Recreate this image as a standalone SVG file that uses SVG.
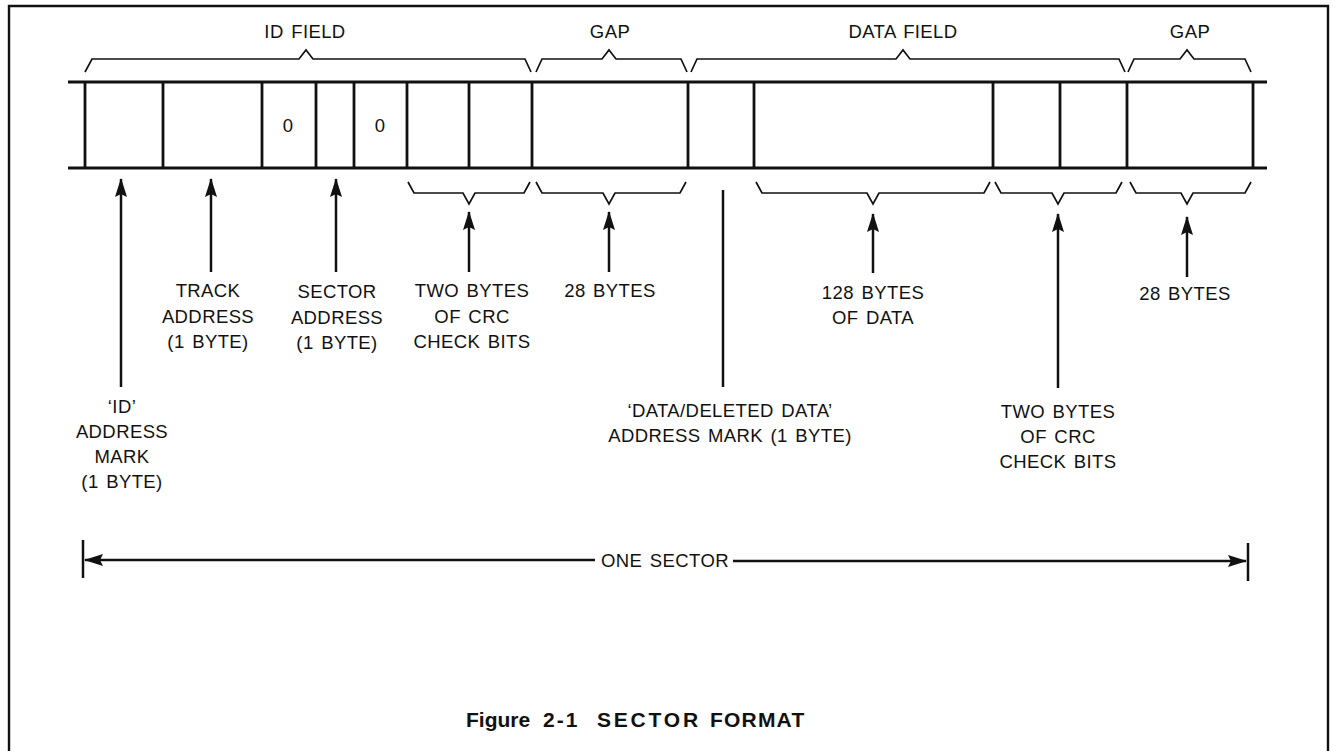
<svg xmlns="http://www.w3.org/2000/svg" width="1335" height="751" viewBox="0 0 1335 751">
<style>
.t{font-family:"Liberation Sans",Arial,sans-serif;font-size:18.5px;letter-spacing:0.4px;word-spacing:2px;fill:#111;text-anchor:middle}
.cap{font-family:"Liberation Sans",Arial,sans-serif;font-size:21px;font-weight:bold;fill:#111}
.ln{stroke:#111;stroke-width:2.8;fill:none}
.br{stroke:#111;stroke-width:1.7;fill:none;stroke-linejoin:miter}
.ar{stroke:#111;stroke-width:2.5;fill:none}
</style>
<defs>
<marker id="ah" markerWidth="19" markerHeight="12" refX="18" refY="6" orient="auto" markerUnits="userSpaceOnUse">
<path d="M0,0 L19,6 L0,12 L3,6 Z" fill="#111"/>
</marker>
</defs>
<rect width="1335" height="751" fill="#fff"/>
<path d="M9,751 V6 H1328 V751" stroke="#111" stroke-width="2.4" fill="none"/>

<g id="track">
<line class="ln" x1="68" y1="82" x2="1267" y2="82"/>
<line class="ln" x1="68" y1="168" x2="1267" y2="168"/>
<g id="separators">
<line class="ln" x1="85" y1="82" x2="85" y2="168"/>
<line class="ln" x1="163" y1="82" x2="163" y2="168"/>
<line class="ln" x1="262" y1="82" x2="262" y2="168"/>
<line class="ln" x1="316" y1="82" x2="316" y2="168"/>
<line class="ln" x1="354" y1="82" x2="354" y2="168"/>
<line class="ln" x1="407" y1="82" x2="407" y2="168"/>
<line class="ln" x1="469" y1="82" x2="469" y2="168"/>
<line class="ln" x1="532" y1="82" x2="532" y2="168"/>
<line class="ln" x1="688" y1="82" x2="688" y2="168"/>
<line class="ln" x1="754" y1="82" x2="754" y2="168"/>
<line class="ln" x1="993" y1="82" x2="993" y2="168"/>
<line class="ln" x1="1060" y1="82" x2="1060" y2="168"/>
<line class="ln" x1="1127" y1="82" x2="1127" y2="168"/>
<line class="ln" x1="1253" y1="82" x2="1253" y2="168"/>
</g>
<text class="t" x="288" y="132">0</text>
<text class="t" x="380" y="132">0</text>
</g>

<g id="top-braces">
<g id="id-field">
<path class="br" d="M85,72 L92,59 H299 L306,50 L313,59 H525 L531,72"/>
<text class="t" x="305" y="38">ID FIELD</text>
</g>
<g id="gap1">
<path class="br" d="M536,72 L542,59 H602 L609,50 L616,59 H681 L687,72"/>
<text class="t" x="610" y="38">GAP</text>
</g>
<g id="data-field">
<path class="br" d="M691,72 L697,59 H896 L903,50 L910,59 H1119 L1125,72"/>
<text class="t" x="903" y="38">DATA FIELD</text>
</g>
<g id="gap2">
<path class="br" d="M1128,72 L1134,59 H1180 L1187,50 L1194,59 H1245 L1251,72"/>
<text class="t" x="1190" y="38">GAP</text>
</g>
</g>

<g id="bottom-braces">
<path class="br" d="M408,182 L414,193 H463 L469,204 L475,193 H524 L530,182"/>
<path class="br" d="M536,182 L542,193 H603 L609,204 L615,193 H680 L686,182"/>
<path class="br" d="M756,182 L762,193 H867 L873,204 L879,193 H984 L990,182"/>
<path class="br" d="M995,182 L1001,193 H1052 L1058,204 L1064,193 H1116 L1122,182"/>
<path class="br" d="M1130,182 L1136,193 H1181 L1187,204 L1193,193 H1245 L1251,182"/>
</g>

<g id="connectors">
<line class="ar" x1="121" y1="387" x2="121" y2="179" marker-end="url(#ah)"/>
<line class="ar" x1="211" y1="272" x2="211" y2="179" marker-end="url(#ah)"/>
<line class="ar" x1="336" y1="272" x2="336" y2="179" marker-end="url(#ah)"/>
<line class="ar" x1="469" y1="272" x2="469" y2="212" marker-end="url(#ah)"/>
<line class="ar" x1="609" y1="272" x2="609" y2="212" marker-end="url(#ah)"/>
<line class="ar" x1="723" y1="387" x2="723" y2="190"/>
<line class="ar" x1="873" y1="273" x2="873" y2="214" marker-end="url(#ah)"/>
<line class="ar" x1="1058" y1="388" x2="1058" y2="214" marker-end="url(#ah)"/>
<line class="ar" x1="1187" y1="277" x2="1187" y2="217" marker-end="url(#ah)"/>
</g>

<g id="labels">
<g id="lbl-id-mark">
<text class="t" x="122" y="413">‘ID’</text>
<text class="t" x="122" y="438">ADDRESS</text>
<text class="t" x="122" y="463">MARK</text>
<text class="t" x="122" y="488">(1 BYTE)</text>
</g>
<g id="lbl-track">
<text class="t" x="208" y="297">TRACK</text>
<text class="t" x="208" y="323">ADDRESS</text>
<text class="t" x="208" y="348">(1 BYTE)</text>
</g>
<g id="lbl-sector">
<text class="t" x="337" y="298">SECTOR</text>
<text class="t" x="337" y="324">ADDRESS</text>
<text class="t" x="337" y="349">(1 BYTE)</text>
</g>
<g id="lbl-crc1">
<text class="t" x="472" y="297">TWO BYTES</text>
<text class="t" x="472" y="323">OF CRC</text>
<text class="t" x="472" y="348">CHECK BITS</text>
</g>
<g id="lbl-gap1">
<text class="t" x="610" y="297">28 BYTES</text>
</g>
<g id="lbl-data-mark">
<text class="t" x="730" y="417">‘DATA/DELETED DATA’</text>
<text class="t" x="730" y="442">ADDRESS MARK (1 BYTE)</text>
</g>
<g id="lbl-data">
<text class="t" x="873" y="299">128 BYTES</text>
<text class="t" x="873" y="324">OF DATA</text>
</g>
<g id="lbl-crc2">
<text class="t" x="1058" y="418">TWO BYTES</text>
<text class="t" x="1058" y="443">OF CRC</text>
<text class="t" x="1058" y="468">CHECK BITS</text>
</g>
<g id="lbl-gap2">
<text class="t" x="1185" y="300">28 BYTES</text>
</g>
</g>

<g id="one-sector">
<line class="ar" x1="83" y1="540" x2="83" y2="578"/>
<line class="ar" x1="1248" y1="543" x2="1248" y2="581"/>
<line class="ar" x1="595" y1="560" x2="85" y2="560" marker-end="url(#ah)"/>
<line class="ar" x1="733" y1="561" x2="1246" y2="561" marker-end="url(#ah)"/>
<text class="t" x="665" y="567">ONE SECTOR</text>
</g>

<g id="caption">
<text class="cap" y="727"><tspan x="466">Figure</tspan><tspan x="543" letter-spacing="2">2-1</tspan><tspan x="597" letter-spacing="2.8">SECTOR</tspan><tspan x="710" letter-spacing="1.2">FORMAT</tspan></text>
</g>
</svg>
